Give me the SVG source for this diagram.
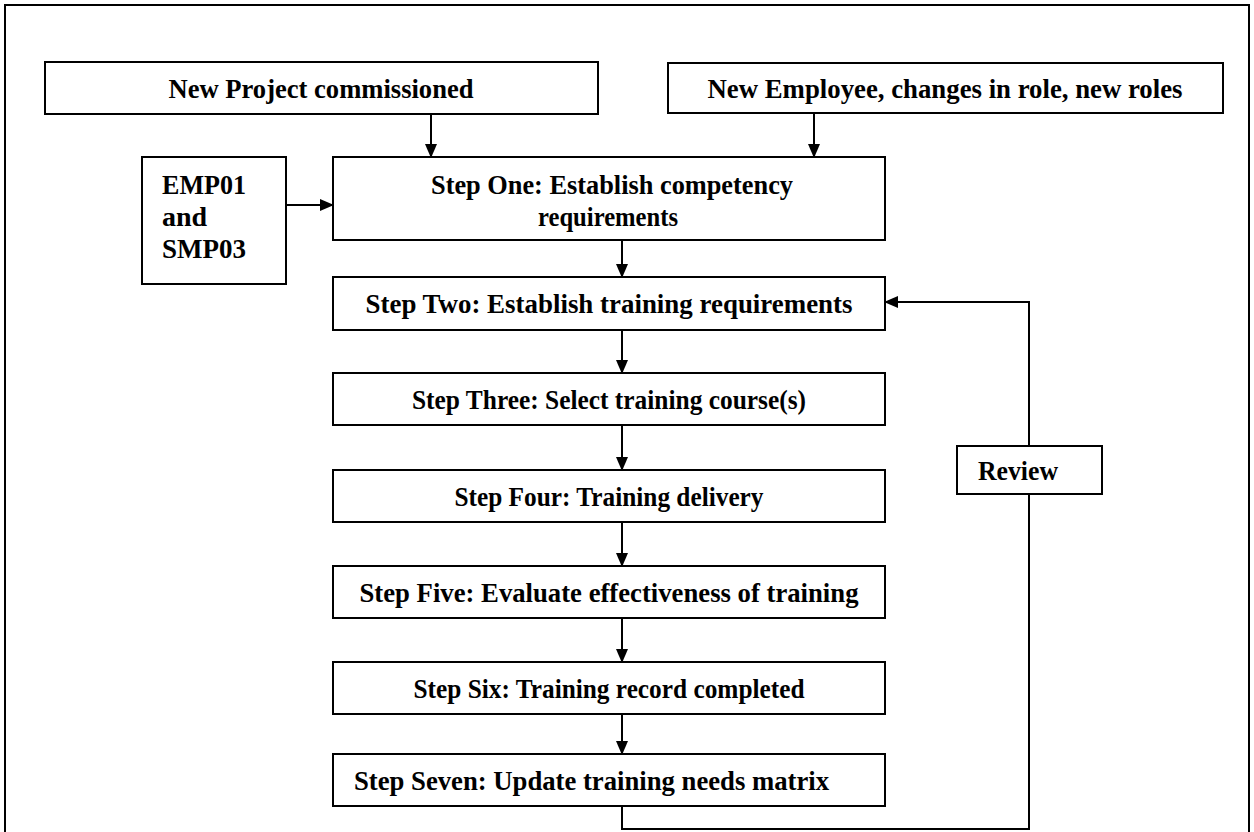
<svg xmlns="http://www.w3.org/2000/svg" width="1254" height="832" viewBox="0 0 1254 832">
<defs>
<marker id="ah" markerWidth="14" markerHeight="14" refX="13" refY="7" orient="auto" markerUnits="userSpaceOnUse">
<path d="M0,1 L14,7 L0,13 Z" fill="#000"/>
</marker>
<style>
.box{fill:#fff;stroke:#000;stroke-width:2}
.t{font-family:"Liberation Serif","Times New Roman",serif;font-weight:bold;font-size:28px;fill:#000}
.c{text-anchor:middle}
.ln{fill:none;stroke:#000;stroke-width:2}
</style>
</defs>
<rect x="0" y="0" width="1254" height="832" fill="#fff"/>
<path d="M5,832 V5 H1249 V832" class="ln" stroke-width="2.5"/>
<g id="connectors">
<line x1="431" y1="114" x2="431" y2="157" class="ln" marker-end="url(#ah)"/>
<line x1="814" y1="113" x2="814" y2="157" class="ln" marker-end="url(#ah)"/>
<line x1="286" y1="205" x2="333" y2="205" class="ln" marker-end="url(#ah)"/>
<line x1="622" y1="240" x2="622" y2="277" class="ln" marker-end="url(#ah)"/>
<line x1="622" y1="330" x2="622" y2="373" class="ln" marker-end="url(#ah)"/>
<line x1="622" y1="425" x2="622" y2="470" class="ln" marker-end="url(#ah)"/>
<line x1="622" y1="522" x2="622" y2="566" class="ln" marker-end="url(#ah)"/>
<line x1="622" y1="618" x2="622" y2="662" class="ln" marker-end="url(#ah)"/>
<line x1="622" y1="714" x2="622" y2="754" class="ln" marker-end="url(#ah)"/>
<path d="M622,806 V829 H1029 V302 H885" class="ln" marker-end="url(#ah)"/>
</g>
<g id="n-project"><rect x="45" y="62" width="553" height="52" class="box"/><text x="321" y="98" class="t c" textLength="305" lengthAdjust="spacingAndGlyphs">New Project commissioned</text></g>
<g id="n-employee"><rect x="668" y="63" width="555" height="50" class="box"/><text x="945" y="98" class="t c" textLength="475" lengthAdjust="spacingAndGlyphs">New Employee, changes in role, new roles</text></g>
<g id="n-emp"><rect x="142" y="157" width="144" height="127" class="box"/><text class="t"><tspan x="162" y="194" textLength="84" lengthAdjust="spacingAndGlyphs">EMP01</tspan><tspan x="162" y="226">and</tspan><tspan x="162" y="258" textLength="84" lengthAdjust="spacingAndGlyphs">SMP03</tspan></text></g>
<g id="n-step1"><rect x="333" y="157" width="552" height="83" class="box"/><text class="t c"><tspan x="612" y="194" textLength="362" lengthAdjust="spacingAndGlyphs">Step One: Establish competency</tspan><tspan x="608" y="226" textLength="140" lengthAdjust="spacingAndGlyphs">requirements</tspan></text></g>
<g id="n-step2"><rect x="333" y="277" width="552" height="53" class="box"/><text x="609" y="313" class="t c" textLength="487" lengthAdjust="spacingAndGlyphs">Step Two: Establish training requirements</text></g>
<g id="n-step3"><rect x="333" y="373" width="552" height="52" class="box"/><text x="609" y="409" class="t c" textLength="394" lengthAdjust="spacingAndGlyphs">Step Three: Select training course(s)</text></g>
<g id="n-step4"><rect x="333" y="470" width="552" height="52" class="box"/><text x="609" y="506" class="t c" textLength="309" lengthAdjust="spacingAndGlyphs">Step Four: Training delivery</text></g>
<g id="n-step5"><rect x="333" y="566" width="552" height="52" class="box"/><text x="609" y="602" class="t c" textLength="499" lengthAdjust="spacingAndGlyphs">Step Five: Evaluate effectiveness of training</text></g>
<g id="n-step6"><rect x="333" y="662" width="552" height="52" class="box"/><text x="609" y="698" class="t c" textLength="391" lengthAdjust="spacingAndGlyphs">Step Six: Training record completed</text></g>
<g id="n-step7"><rect x="333" y="754" width="552" height="52" class="box"/><text x="354" y="790" class="t" textLength="475" lengthAdjust="spacingAndGlyphs">Step Seven: Update training needs matrix</text></g>
<g id="n-review"><rect x="957" y="446" width="145" height="48" class="box"/><text x="978" y="480" class="t" textLength="80" lengthAdjust="spacingAndGlyphs">Review</text></g>
</svg>
